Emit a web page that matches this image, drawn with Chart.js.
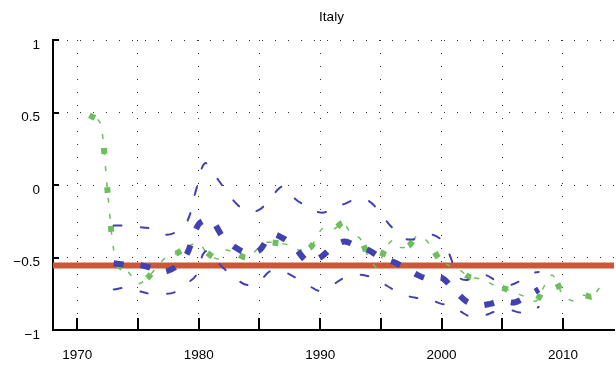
<!DOCTYPE html>
<html>
<head>
<meta charset="utf-8">
<script src="https://cdn.jsdelivr.net/npm/chart.js@4/dist/chart.umd.min.js"></script>
<style>
  html, body { margin: 0; padding: 0; background: #fff; }
  canvas { display: block; }
</style>
</head>
<body>
<canvas id="c" width="616" height="369"></canvas>
<script>
// Italy: estimate with upper/lower bands (blue), alternative estimate (green), reference level (red)
const titleText = 'Italy';

const blueYears = [1973, 1974, 1975, 1976, 1977, 1978, 1979, 1980, 1981, 1982, 1983, 1984, 1985, 1986, 1987, 1988, 1989, 1990, 1991, 1992, 1993, 1994, 1995, 1996, 1997, 1998, 1999, 2000, 2001, 2002, 2003, 2004, 2005, 2006, 2007, 2008];
const blueMid   = [-0.54, -0.55, -0.55, -0.57, -0.60, -0.57, -0.48, -0.27, -0.24, -0.36, -0.43, -0.47, -0.45, -0.34, -0.37, -0.44, -0.53, -0.50, -0.43, -0.39, -0.42, -0.45, -0.50, -0.53, -0.57, -0.62, -0.65, -0.64, -0.72, -0.80, -0.83, -0.82, -0.80, -0.81, -0.77, -0.72];

const bandYears = [1973, 1974, 1975, 1976, 1977, 1978, 1979, 1979.8, 1980.5, 1981.2, 1982, 1983, 1984, 1985, 1986, 1987, 1988, 1989, 1990, 1991, 1992, 1993, 1994, 1995, 1996, 1997, 1998, 1999, 2000, 2000.6, 2001.5, 2002.5, 2003.5, 2004.5, 2005.5, 2006.5, 2007.4, 2008];
const blueUpper = [-0.28, -0.28, -0.29, -0.30, -0.34, -0.33, -0.26, -0.03, 0.15, 0.08, -0.01, -0.12, -0.18, -0.17, -0.08, -0.01, -0.10, -0.15, -0.19, -0.17, -0.13, -0.10, -0.11, -0.20, -0.30, -0.37, -0.37, -0.34, -0.38, -0.47, -0.64, -0.65, -0.62, -0.66, -0.69, -0.66, -0.61, -0.60];
const blueLower = [-0.72, -0.71, -0.73, -0.75, -0.75, -0.74, -0.68, -0.62, -0.46, -0.50, -0.57, -0.64, -0.69, -0.66, -0.59, -0.60, -0.64, -0.69, -0.73, -0.69, -0.64, -0.62, -0.63, -0.67, -0.72, -0.76, -0.78, -0.79, -0.82, -0.83, -0.87, -0.91, -0.90, -0.87, -0.86, -0.88, -0.87, -0.84];

const greenYears  = [1971.0, 1971.7, 1972.0, 1972.5, 1973.0, 1973.4, 1974.2, 1975.0, 1975.8, 1976.6, 1977.3, 1978.0, 1979.2, 1980.0, 1980.6, 1981.6, 1982.2, 1983.0, 1984.0, 1985.4, 1986.5, 1987.7, 1988.3, 1989.2, 1990.2, 1991.2, 1991.9, 1992.5, 1993.3, 1994.0, 1994.7, 1995.3, 1996.0, 1996.6, 1997.3, 1998.0, 1998.6, 1999.2, 1999.8, 2000.5, 2001.4, 2002.3, 2003.4, 2004.3, 2005.4, 2006.3, 2007.1, 2007.8, 2008.5, 2009.1, 2009.6, 2010.0, 2010.9, 2011.7, 2012.4, 2013.1, 2013.6];
const greenValues = [0.48, 0.45, 0.40, -0.05, -0.45, -0.55, -0.60, -0.68, -0.64, -0.56, -0.50, -0.48, -0.42, -0.40, -0.46, -0.51, -0.45, -0.47, -0.50, -0.40, -0.40, -0.42, -0.45, -0.43, -0.30, -0.30, -0.26, -0.33, -0.37, -0.50, -0.57, -0.45, -0.38, -0.43, -0.42, -0.35, -0.37, -0.43, -0.51, -0.55, -0.58, -0.635, -0.65, -0.69, -0.72, -0.75, -0.78, -0.80, -0.69, -0.62, -0.69, -0.76, -0.80, -0.76, -0.77, -0.70, -0.68];

const refYears  = [1968, 2014.2];
const refValues = [-0.555, -0.555];

const xTickYears  = [1970, 1975, 1980, 1985, 1990, 1995, 2000, 2005, 2010];
const xLabelYears = [1970, 1980, 1990, 2000, 2010];
const yTickValues = [-1, -0.5, 0, 0.5, 1];

const xMin = 1968, xMax = 2014.2;
const yMin = -1, yMax = 1;

const BLUE = '#4141b1';
const GREEN = '#6cbf5c';
const RED = '#cd5634';

const pairs = (xs, ys) => xs.map((x, i) => ({ x: x, y: ys[i] }));
const fmt = v => (v < 0 ? '\u2212' : '') + String(Math.abs(v));

// short tick marks drawn inward from the axes, plus the title
const axisDecor = {
  id: 'axisDecor',
  afterDraw(chart) {
    const { ctx, chartArea, scales } = chart;
    ctx.save();
    ctx.strokeStyle = '#000';
    ctx.lineWidth = 2;
    ctx.beginPath();
    xTickYears.forEach(v => {
      const px = Math.round(scales.x.getPixelForValue(v));
      ctx.moveTo(px, chartArea.bottom);
      ctx.lineTo(px, chartArea.bottom - 12);
    });
    yTickValues.forEach(v => {
      const py = Math.round(scales.y.getPixelForValue(v));
      ctx.moveTo(chartArea.left, py);
      ctx.lineTo(chartArea.left + 6, py);
    });
    ctx.stroke();
    ctx.fillStyle = '#000';
    ctx.font = '13.5px "Liberation Sans", Arial, sans-serif';
    ctx.textAlign = 'center';
    ctx.textBaseline = 'alphabetic';
    ctx.fillText(titleText, (chartArea.left + chartArea.right) / 2 - 2, 21);
    ctx.restore();
  }
};

Chart.defaults.font.family = '"Liberation Sans", Arial, sans-serif';
Chart.defaults.font.size = 13.5;
Chart.defaults.color = '#000';

new Chart(document.getElementById('c'), {
  type: 'line',
  data: {
    datasets: [
      { label: 'estimate', data: pairs(blueYears, blueMid), borderColor: BLUE, borderWidth: 6,
        borderDash: [10, 17], borderCapStyle: 'butt', tension: 0.3, order: 1 },
      { label: 'upper', data: pairs(bandYears, blueUpper), borderColor: BLUE, borderWidth: 2,
        borderDash: [8, 19], borderCapStyle: 'round', tension: 0.4, order: 2 },
      { label: 'lower', data: pairs(bandYears, blueLower), borderColor: BLUE, borderWidth: 2,
        borderDash: [8, 19], borderCapStyle: 'round', tension: 0.4, order: 2 },
      { label: 'alternative', data: pairs(greenYears, greenValues), borderColor: GREEN, borderWidth: 6,
        borderDash: [6, 33], borderCapStyle: 'butt', tension: 0.3, order: 3 },
      { label: 'alternative (thin)', data: pairs(greenYears, greenValues), borderColor: GREEN, borderWidth: 1.5,
        borderDash: [5, 11], borderDashOffset: -9, borderCapStyle: 'butt', tension: 0.3, order: 3 },
      { label: 'reference', data: pairs(refYears, refValues), borderColor: RED, borderWidth: 6,
        tension: 0, order: 10 }
    ]
  },
  options: {
    responsive: false,
    animation: false,
    devicePixelRatio: 1,
    elements: { point: { radius: 0, hoverRadius: 0 } },
    layout: { padding: { top: 40, right: 2, left: 0, bottom: 0 } },
    plugins: { legend: { display: false }, tooltip: { enabled: false }, title: { display: false } },
    scales: {
      x: {
        type: 'linear', min: xMin, max: xMax,
        afterBuildTicks: s => { s.ticks = xTickYears.map(v => ({ value: v })); },
        afterFit: s => { s.height = 39; },
        ticks: {
          padding: 17, maxRotation: 0, autoSkip: false,
          callback: v => (xLabelYears.includes(v) ? String(v) : '')
        },
        grid: { color: '#333', lineWidth: 1, drawTicks: false },
        border: { display: true, color: '#000', width: 2, dash: [1, 12] }
      },
      y: {
        type: 'linear', min: yMin, max: yMax,
        afterBuildTicks: s => { s.ticks = yTickValues.map(v => ({ value: v })); },
        afterFit: s => { s.width = 53; },
        ticks: { padding: 13, labelOffset: 5, callback: v => fmt(v) },
        grid: { color: '#333', lineWidth: 1, drawTicks: false },
        border: { display: true, color: '#000', width: 2, dash: [1, 12] }
      }
    }
  },
  plugins: [axisDecor]
});
</script>
</body>
</html>
